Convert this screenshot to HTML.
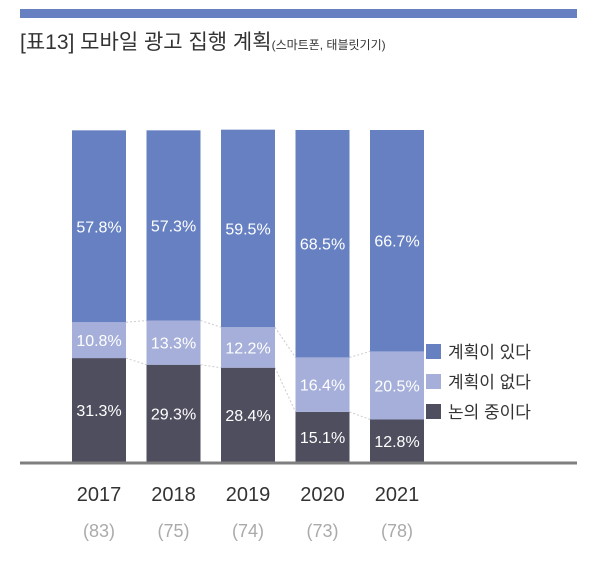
<!DOCTYPE html>
<html><head><meta charset="utf-8"><style>
body{margin:0;background:#fff;}
svg text{font-family:"Liberation Sans","Noto Sans CJK KR",sans-serif;}
</style></head><body>
<svg width="600" height="558" viewBox="0 0 600 558">
<rect x="20" y="9" width="557" height="9" fill="#6680c2"/>
<text x="20" y="49" font-size="21" fill="#333">[표13] 모바일 광고 집행 계획<tspan font-size="12">(스마트폰, 태블릿기기)</tspan></text>
<g id="bars"></g>
<line x1="20" y1="463" x2="577" y2="463" stroke="#7f7f7f" stroke-width="3"/>
<g>
<rect x="426" y="344" width="15" height="15" fill="#6680c2"/>
<text x="448" y="358" font-size="17" fill="#333">계획이 있다</text>
<rect x="426" y="374" width="15" height="15" fill="#a5afd9"/>
<text x="448" y="388" font-size="17" fill="#333">계획이 없다</text>
<rect x="426" y="404" width="15" height="15" fill="#4f4e5f"/>
<text x="448" y="418" font-size="17" fill="#333">논의 중이다</text>
</g>
</svg>
<script>
const years=["2017","2018","2019","2020","2021"];
const counts=["(83)","(75)","(74)","(73)","(78)"];
const discussing=[31.3,29.3,28.4,15.1,12.8];
const noPlan=[10.8,13.3,12.2,16.4,20.5];
const hasPlan=[57.8,57.3,59.5,68.5,66.7];
const svg=document.querySelector('svg');const g=document.getElementById('bars');
const NS='http://www.w3.org/2000/svg';
const base=462,plotH=332,x0=72,step=74.5,bw=54;
const y=v=>base-v/100*plotH;
const xs=i=>x0+i*step;
function el(t,a,p){const e=document.createElementNS(NS,t);for(const k in a)e.setAttribute(k,a[k]);(p||g).appendChild(e);return e;}
const series=[[discussing,'#4f4e5f','discussing'],[noPlan,'#a5afd9','no-plan'],[hasPlan,'#6680c2','has-plan']];
// connectors
for(let i=0;i<years.length-1;i++){
  let c1=discussing[i],c2=discussing[i+1];
  [[c1,c2],[c1+noPlan[i],c2+noPlan[i+1]]].forEach(([a,b])=>{
    const l=el('line',{x1:xs(i)+bw,y1:y(a),x2:xs(i+1),y2:y(b),stroke:'#ccc','stroke-dasharray':'2,2','stroke-width':1});
    
    
  });
}
years.forEach((yr,i)=>{
  let cum=0;
  series.forEach(([arr,col,nm])=>{
    const v=arr[i];const top=y(cum+v),bot=y(cum);
    const r=el('rect',{x:xs(i),y:top,width:bw,height:bot-top,fill:col});
    
    
    const t=el('text',{x:xs(i)+bw/2,y:(top+bot)/2+6,'text-anchor':'middle','font-size':16,fill:'#fff'});
    t.textContent=v.toFixed(1)+'%';
    
    
    cum+=v;
  });
  const t=el('text',{x:xs(i)+bw/2,y:501,'text-anchor':'middle','font-size':20,fill:'#333'});
  t.textContent=yr;
  
  
  const c=el('text',{x:xs(i)+bw/2,y:537,'text-anchor':'middle','font-size':18,fill:'#aaa'});
  c.textContent=counts[i];
  
  
});
</script>
</body></html>
